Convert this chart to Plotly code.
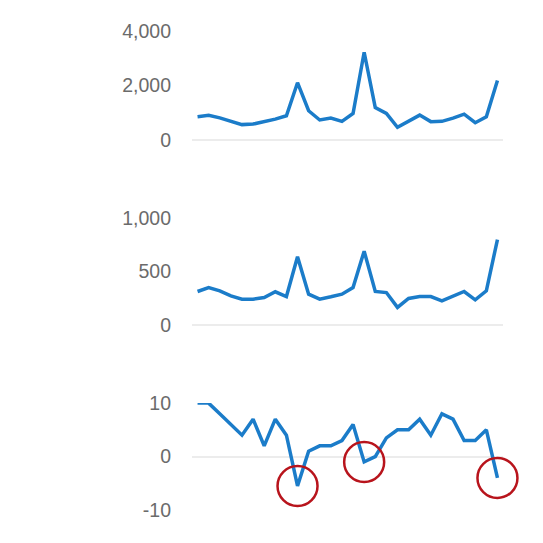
import plotly.graph_objects as go
from plotly.subplots import make_subplots

# Series values (28 periods)
periods = list(range(28))

top_values = [850, 900, 810, 700, 560, 580, 670, 760, 885, 2100,
              1070, 730, 800, 680, 970, 3220, 1190, 970, 460, 700,
              910, 670, 680, 800, 945, 630, 850, 2180]

mid_values = [313, 350, 319, 272, 241, 241, 257, 310, 266, 638,
              288, 241, 263, 288, 350, 690, 313, 303, 164, 248,
              266, 266, 226, 266, 313, 235, 319, 799]

bottom_values = [10, 10, 8, 6, 4, 7, 2, 7, 4, -5.5,
                 1, 2, 2, 3, 6, -1, 0, 3.5, 5, 5,
                 7, 4, 8, 7, 3, 3, 5, -4]

top_ticks = [0, 2000, 4000]
top_labels = ['0', '2,000', '4,000']
mid_ticks = [0, 500, 1000]
mid_labels = ['0', '500', '1,000']
bottom_ticks = [-10, 0, 10]
bottom_labels = ['-10', '0', '10']

LINE_COLOR = '#1b7cc9'
CIRCLE_COLOR = '#b8141c'
TICK_COLOR = '#6b6b6b'

# highlight the points that drop below zero
neg_x = [p for p, v in zip(periods, bottom_values) if v < 0]
neg_y = [v for v in bottom_values if v < 0]

fig = make_subplots(rows=3, cols=1, shared_xaxes=False)

for row, vals in enumerate([top_values, mid_values, bottom_values], start=1):
    fig.add_trace(go.Scatter(
        x=periods, y=vals, mode='lines',
        line=dict(color=LINE_COLOR, width=3.5),
        showlegend=False, hoverinfo='skip'
    ), row=row, col=1)

fig.add_trace(go.Scatter(
    x=neg_x, y=neg_y, mode='markers',
    marker=dict(symbol='circle-open', size=40,
                line=dict(color=CIRCLE_COLOR, width=2.5), color=CIRCLE_COLOR),
    cliponaxis=False, showlegend=False, hoverinfo='skip'
), row=3, col=1)

# page body adds an 8px offset, so figure coordinates are shifted by 8
size = 543
plot_top, plot_bottom = 18, 502
span = plot_bottom - plot_top


def dom(top_px, bottom_px):
    return [(plot_bottom - bottom_px) / span, (plot_bottom - top_px) / span]


domains = [dom(18, 128), dom(207, 315), dom(394, 502)]
ranges = [[0, 4000], [0, 1000], [-10, 10]]
ticks = [(top_ticks, top_labels), (mid_ticks, mid_labels), (bottom_ticks, bottom_labels)]

for i in range(3):
    fig.update_yaxes(
        domain=domains[i], range=ranges[i],
        tickvals=ticks[i][0], ticktext=ticks[i][1],
        showgrid=False, zeroline=True,
        zerolinecolor='#ececec', zerolinewidth=2, showline=False,
        ticks='', ticklabelstandoff=20,
        tickfont=dict(family='Arial, Liberation Sans', size=19.5, color=TICK_COLOR),
        row=i + 1, col=1
    )
    fig.update_xaxes(
        range=[-0.5, 27.5], showgrid=False, zeroline=False,
        showline=False, showticklabels=False, ticks='',
        row=i + 1, col=1
    )

fig.update_layout(
    width=size, height=size,
    margin=dict(l=184, r=48, t=plot_top, b=size - plot_bottom),
    plot_bgcolor='white', paper_bgcolor='white',
)

fig.write_html("out.html")
